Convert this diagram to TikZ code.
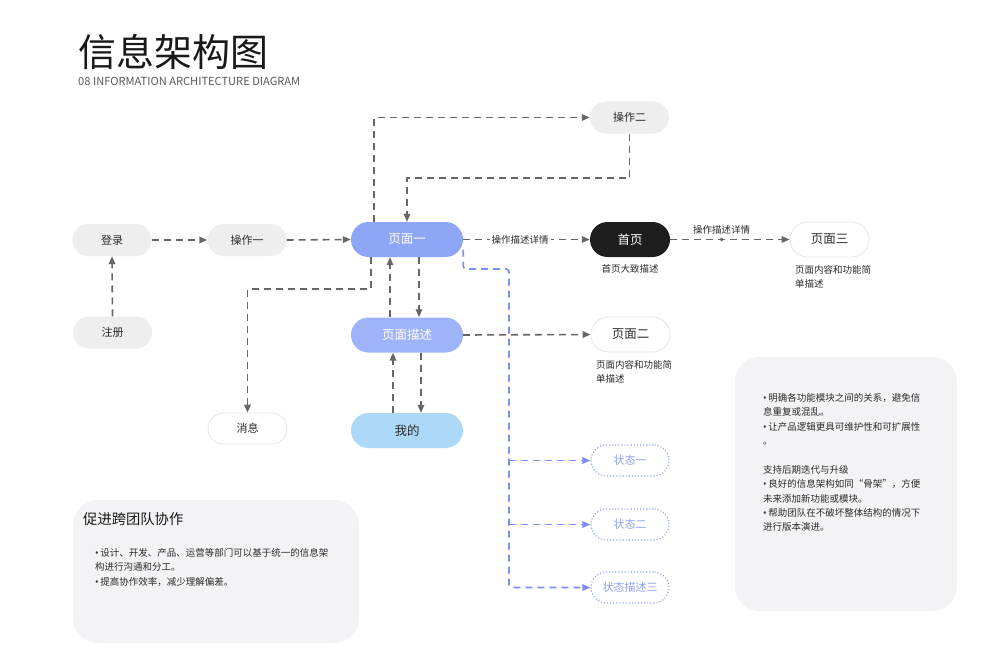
\documentclass[tikz,border=0pt]{standalone}
\usepackage{fontspec}
\setmainfont{Noto Sans CJK SC}
\newfontfamily\latinfont{Noto Sans}
\newcommand{\bul}{{\latinfont •}\,}
\usetikzlibrary{arrows.meta,calc}
\definecolor{nodegray}{HTML}{EEEEEE}
\definecolor{textdark}{HTML}{2B2B2B}
\definecolor{blueA}{HTML}{8DA6F6}
\definecolor{blueB}{HTML}{9FB3F8}
\definecolor{blueC}{HTML}{ACD9F7}
\definecolor{blackbox}{HTML}{1E1E1E}
\definecolor{wborder}{HTML}{E6E6E6}
\definecolor{dotblue}{HTML}{8EA2F5}
\definecolor{lineblue}{HTML}{7B90F6}
\definecolor{arrowgray}{HTML}{666666}
\definecolor{boxgray}{HTML}{F3F3F5}
\begin{document}
\begin{tikzpicture}[x=1pt,y=-1pt,
  base/.style={rectangle, inner sep=0pt},
  gnode/.style={base, rounded corners=16pt, minimum width=79pt, minimum height=32pt, fill=nodegray, text=textdark, font=\fontsize{11}{13}\selectfont},
  bnode/.style={base, rounded corners=17.5pt, minimum width=112pt, minimum height=35pt, text=white, font=\fontsize{12.5}{14}\selectfont},
  knode/.style={base, rounded corners=17.5pt, minimum width=80pt, minimum height=35pt, fill=blackbox, text=white, font=\fontsize{12.5}{14}\selectfont},
  wnode/.style={base, rounded corners=17.5pt, minimum width=79pt, minimum height=35pt, fill=white, draw=wborder, line width=0.8pt, text=textdark, font=\fontsize{12.5}{14}\selectfont},
  snode/.style={base, rounded corners=15.5pt, minimum width=78pt, minimum height=31pt, draw=dotblue, dotted, line width=1.1pt, text=dotblue, font=\fontsize{11}{13}\selectfont},
  arr/.style={draw=arrowgray, line width=1.6pt, dash pattern=on 7pt off 5pt, -{Triangle[length=8pt,width=6.5pt]}},
  barr/.style={draw=lineblue, line width=1.6pt, dash pattern=on 7pt off 5pt, rounded corners=3pt, -{Triangle[length=8pt,width=6.5pt]}},
  small/.style={font=\fontsize{9.5}{14.4}\selectfont, text=textdark, inner sep=0pt}
]
\useasboundingbox (0,0) rectangle (1000,666);
\fill[white] (0,0) rectangle (1000,666);

% title
\node[anchor=west, inner sep=0pt, text=black!90, font=\fontsize{38}{40}\selectfont] (title) at (78,52) {信息架构图};
\node[anchor=west, inner sep=0pt, text=black!65, font=\fontsize{11.1}{12}\selectfont] (subtitle) at (78,81) {08 INFORMATION ARCHITECTURE DIAGRAM};

% info boxes
\fill[boxgray, rounded corners=25pt] (73,500) rectangle (359,643);
\fill[boxgray, rounded corners=25pt] (735,357) rectangle (957,611);
\node[anchor=west, inner sep=0pt, text=black!90, font=\fontsize{14.3}{16}\selectfont] (btitle) at (83,519) {促进跨团队协作};
\node[small, anchor=north west, align=left] (btext) at (95,548) {\bul 设计、开发、产品、运营等部门可以基于统一的信息架\\构进行沟通和分工。\\\bul 提高协作效率，减少理解偏差。};
\node[small, anchor=north west, align=left] (rtext) at (763,393) {\bul 明确各功能模块之间的关系，避免信\\息重复或混乱。\\\bul 让产品逻辑更具可维护性和可扩展性\\。\\[14.4pt]支持后期迭代与升级\\\bul 良好的信息架构如同“骨架”，方便\\未来添加新功能或模块。\\\bul 帮助团队在不破坏整体结构的情况下\\进行版本演进。};

% nodes
\node[gnode] (login) at (112,240) {登录};
\node[gnode] (op1) at (247,240) {操作一};
\node[bnode, fill=blueA] (p1) at (407,239.5) {页面一};
\node[knode] (home) at (630,239.5) {首页};
\node[wnode] (p3) at (829.5,239.5) {页面三};
\node[gnode] (op2) at (629.5,117.5) {操作二};
\node[gnode] (reg) at (112.5,332.5) {注册};
\node[bnode, fill=blueB] (pd) at (407,335) {页面描述};
\node[wnode] (p2) at (630.5,334.5) {页面二};
\node[wnode, minimum height=31pt, rounded corners=15.5pt, font=\fontsize{11}{13}\selectfont] (msg) at (247.5,428.5) {消息};
\node[bnode, fill=blueC, text=textdark] (me) at (407,430.5) {我的};
\node[snode] (s1) at (630,460.5) {状态一};
\node[snode] (s2) at (630,524.5) {状态二};
\node[snode] (s3) at (630,587.5) {状态描述三};

% descriptions
\node[small] (homedesc) at (630,269) {首页大致描述};
\node[small, anchor=north west, align=left] (p3desc) at (795,265) {页面内容和功能简\\单描述};
\node[small, anchor=north west, align=left] (p2desc) at (596,360) {页面内容和功能简\\单描述};

% helper coordinates
\coordinate (y178) at (0,178);
\coordinate (y289) at (0,289);
\coordinate (a4) at ([xshift=-33pt]p1.north);
\coordinate (a8) at ([xshift=-36pt]p1.south);
\coordinate (b0) at ([yshift=-10pt]p1.east);
\coordinate (bj) at (509,269);

% gray connectors
\draw[arr] (reg.north) -- (login.south);
\draw[arr] (login.east) -- (op1.west);
\draw[arr] (op1.east) -- (p1.west);
\draw[arr] (a4) |- (op2.west);
\draw[arr] (op2.south) -- (op2.south |- y178) -| (p1.north);
\draw[arr] (p1.east) -- node[pos=0.45, fill=white, inner sep=2pt, font=\fontsize{9.5}{11}\selectfont, text=textdark] (lab1) {操作描述详情} (home.west);
\draw[arr] (home.east) -- node[pos=0.43, circle, fill=arrowgray, inner sep=1.4pt] (dot) {} node[pos=0.43, above=4pt, inner sep=0pt, font=\fontsize{9.5}{11}\selectfont, text=textdark] (lab2) {操作描述详情} (p3.west);
\draw[arr] (a8) -- (a8 |- y289) -| (msg.north);
\draw[arr] ([xshift=12pt]p1.south) -- ([xshift=12pt]pd.north);
\draw[arr] ([xshift=-17pt]pd.north) -- ([xshift=-17pt]p1.south);
\draw[arr] ([xshift=14pt]pd.south) -- ([xshift=14pt]me.north);
\draw[arr] ([xshift=-14pt]me.north) -- ([xshift=-14pt]pd.south);
\draw[arr] (pd.east) -- (p2.west);

% blue connectors
\draw[barr] (b0) -- (b0 |- bj) -- (bj) -- (bj |- s3.west) -- (s3.west);
\draw[barr] (bj |- s1.west) -- (s1.west);
\draw[barr] (bj |- s2.west) -- (s2.west);
\end{tikzpicture}
\end{document}
